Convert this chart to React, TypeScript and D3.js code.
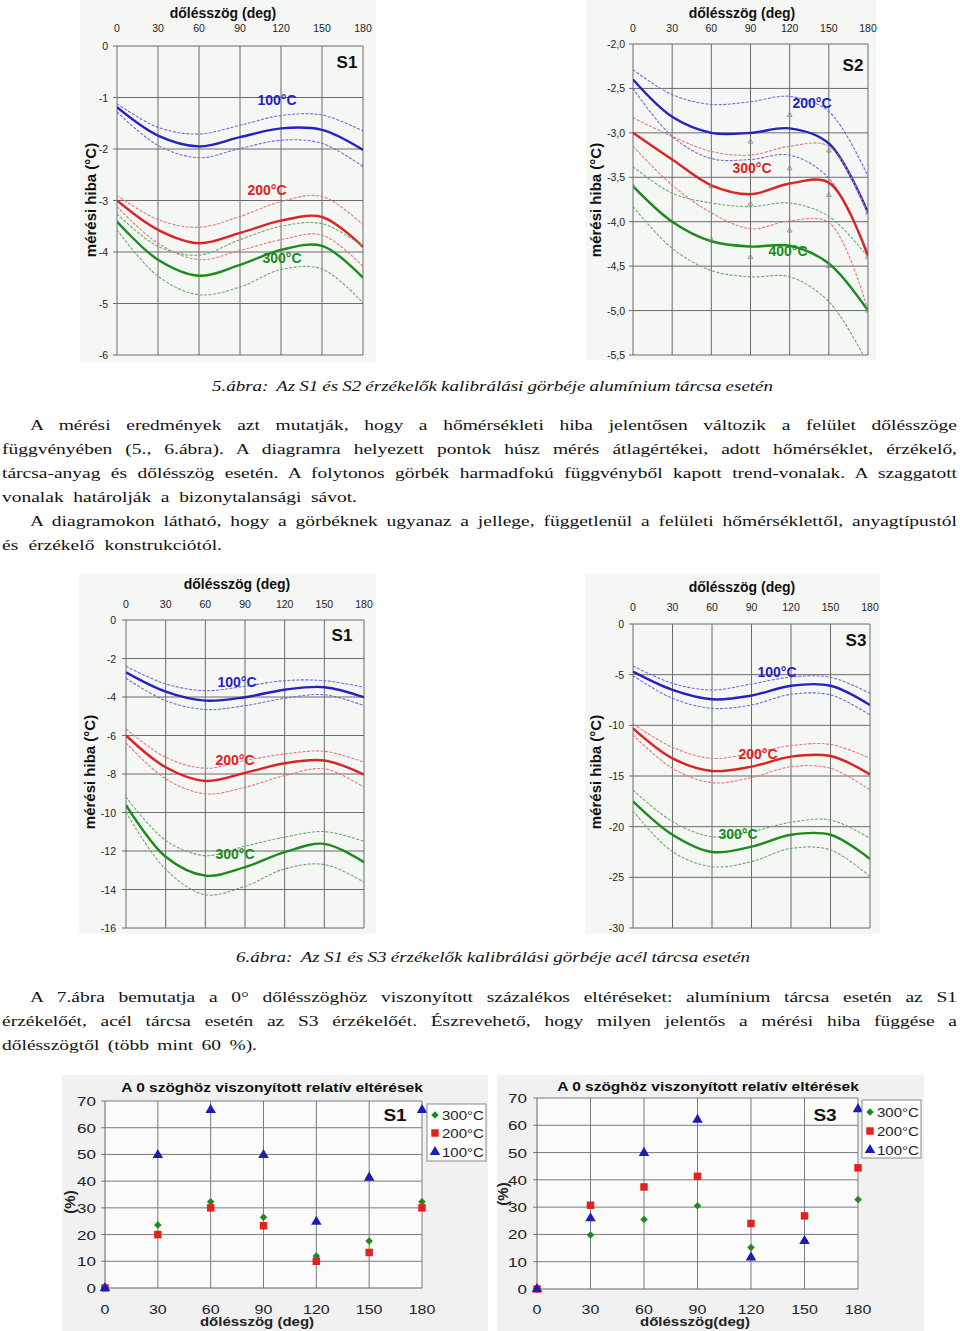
import React, { useLayoutEffect, useRef, useState } from "react";
import * as d3 from "d3";

// ---------- shared ----------
const ANGLES = [0, 30, 60, 90, 120, 150, 180];

// ---------- Fig 5, S1, aluminium ----------
const A1_100 = [-1.19, -1.74, -1.95, -1.77, -1.6, -1.63, -2.02];
const A1_100_HI = [-1.12, -1.58, -1.71, -1.54, -1.35, -1.34, -1.65];
const A1_100_LO = [-1.28, -1.93, -2.17, -1.99, -1.83, -1.89, -2.34];
const A1_200 = [-3.0, -3.57, -3.83, -3.63, -3.39, -3.32, -3.9];
const A1_200_HI = [-2.9, -3.37, -3.52, -3.31, -3.02, -2.92, -3.47];
const A1_200_LO = [-3.12, -3.83, -4.15, -3.97, -3.76, -3.67, -4.28];
const A1_300 = [-3.41, -4.15, -4.46, -4.25, -3.96, -3.88, -4.5];
const A1_300_HI = [-3.26, -3.89, -4.06, -3.76, -3.5, -3.45, -3.89];
const A1_300_LO = [-3.57, -4.47, -4.83, -4.68, -4.34, -4.33, -4.99];
const A1_YTICKS = [0, -1, -2, -3, -4, -5, -6];
const A1_YLABELS = ["0", "-1", "-2", "-3", "-4", "-5", "-6"];

// ---------- Fig 5, S2, aluminium ----------
const A2_200 = [-2.4, -2.82, -3.0, -3.0, -2.95, -3.12, -3.9];
const A2_200_HI = [-2.29, -2.57, -2.68, -2.65, -2.59, -2.76, -3.49];
const A2_200_LO = [-2.5, -3.04, -3.29, -3.3, -3.25, -3.51, -4.35];
const A2_300 = [-3.0, -3.3, -3.59, -3.69, -3.57, -3.56, -4.39];
const A2_300_HI = [-2.83, -3.04, -3.21, -3.25, -3.15, -3.15, -3.92];
const A2_300_LO = [-3.15, -3.59, -3.9, -4.08, -3.99, -4.01, -5.0];
const A2_400 = [-3.6, -4.0, -4.22, -4.28, -4.27, -4.47, -5.0];
const A2_400_HI = [-3.38, -3.68, -3.79, -3.83, -3.79, -3.94, -4.4];
const A2_400_LO = [-3.83, -4.3, -4.55, -4.62, -4.62, -4.9, -5.6];
const A2_PTS_200 = [null, null, null, -3.1, -2.8, -3.2, -3.9];
const A2_PTS_300 = [null, null, -3.6, -3.8, -3.4, -3.7, -4.4];
const A2_PTS_400 = [-3.6, null, -4.2, -4.4, -4.1, -4.5, -5.0];
const A2_YTICKS = [-2, -2.5, -3, -3.5, -4, -4.5, -5, -5.5];
const A2_YLABELS = ["-2,0", "-2,5", "-3,0", "-3,5", "-4,0", "-4,5", "-5,0", "-5,5"];

// ---------- Fig 6, S1, steel ----------
const B1_100 = [-2.72, -3.72, -4.19, -4.01, -3.62, -3.49, -4.01];
const B1_100_HI = [-2.4, -3.32, -3.67, -3.44, -3.15, -3.15, -3.49];
const B1_100_LO = [-3.03, -4.19, -4.65, -4.45, -4.07, -3.88, -4.45];
const B1_200 = [-6.0, -7.65, -8.36, -7.94, -7.44, -7.3, -8.03];
const B1_200_HI = [-5.66, -7.13, -7.7, -7.3, -6.96, -6.82, -7.39];
const B1_200_LO = [-6.38, -8.25, -9.03, -8.69, -8.08, -7.73, -8.69];
const B1_300 = [-9.62, -12.3, -13.28, -12.84, -12.06, -11.63, -12.58];
const B1_300_HI = [-9.19, -11.45, -12.24, -11.75, -11.28, -10.99, -11.5];
const B1_300_LO = [-10.0, -12.95, -14.27, -13.83, -12.93, -12.7, -13.62];
const B1_YTICKS = [0, -2, -4, -6, -8, -10, -12, -14, -16];
const B1_YLABELS = ["0", "-2", "-4", "-6", "-8", "-10", "-12", "-14", "-16"];

// ---------- Fig 6, S3, steel ----------
const B3_100 = [-4.7, -6.5, -7.43, -7.07, -6.09, -6.09, -8.0];
const B3_100_HI = [-4.14, -5.86, -6.51, -5.92, -5.23, -5.26, -6.84];
const B3_100_LO = [-5.1, -7.34, -8.32, -7.99, -6.94, -7.0, -8.98];
const B3_200 = [-10.3, -13.26, -14.5, -14.08, -13.09, -13.03, -14.84];
const B3_200_HI = [-9.87, -12.17, -13.26, -12.76, -12.0, -11.88, -13.26];
const B3_200_LO = [-10.95, -14.24, -15.66, -15.16, -14.08, -14.24, -16.38];
const B3_300 = [-17.5, -20.8, -22.5, -21.97, -20.8, -20.8, -23.19];
const B3_300_HI = [-16.38, -19.5, -20.99, -20.49, -19.57, -19.34, -21.15];
const B3_300_LO = [-18.45, -22.47, -23.95, -23.45, -22.14, -22.3, -24.93];
const B3_YTICKS = [0, -5, -10, -15, -20, -25, -30];
const B3_YLABELS = ["0", "-5", "-10", "-15", "-20", "-25", "-30"];

// ---------- Fig 7, relative deviations (%) ----------
const R_S1_300 = [0, 23.6, 32.3, 26.5, 12, 17.6, 32.3];
const R_S1_200 = [0, 20, 30, 23.3, 10, 13.3, 30];
const R_S1_100 = [0, 49.8, 66.6, 49.8, 24.8, 41.3, 66.6];
const R_S3_300 = [0, 19.8, 25.5, 30.5, 15.2, 17.6, 32.8];
const R_S3_200 = [0, 30.7, 37.4, 41.3, 24.0, 26.8, 44.4];
const R_S3_100 = [0, 25.9, 49.9, 62.0, 11.6, 17.6, 65.9];
const PCT_TICKS = [0, 10, 20, 30, 40, 50, 60, 70];
const LEGEND_LABELS = ["300°C", "200°C", "100°C"];

// ---------- text ----------
const CAPTION_5 = "5.ábra:  Az S1 és S2 érzékelők kalibrálási görbéje alumínium tárcsa esetén";
const CAPTION_6 = "6.ábra:  Az S1 és S3 érzékelők kalibrálási görbéje acél tárcsa esetén";
const PARA_1 = [
  "A mérési eredmények azt mutatják, hogy a hőmérsékleti hiba jelentősen változik a felület dőlésszöge",
  "függvényében (5., 6.ábra). A diagramra helyezett pontok húsz mérés átlagértékei, adott hőmérséklet, érzékelő,",
  "tárcsa-anyag és dőlésszög esetén. A folytonos görbék harmadfokú függvényből kapott trend-vonalak. A szaggatott",
  "vonalak határolják a bizonytalansági sávot.",
];
const PARA_2 = [
  "A diagramokon látható, hogy a görbéknek ugyanaz a jellege, függetlenül a felületi hőmérséklettől, anyagtípustól",
  "és érzékelő konstrukciótól.",
];
const PARA_3 = [
  "A 7.ábra bemutatja a 0° dőlésszöghöz viszonyított százalékos eltéréseket: alumínium tárcsa esetén az S1",
  "érzékelőét, acél tárcsa esetén az S3 érzékelőét. Észrevehető, hogy milyen jelentős a mérési hiba függése a",
  "dőlésszögtől (több mint 60 %).",
];

const BLUE = "#2323bf";
const BLUE_L = "#6b6bdc";
const RED = "#dc2222";
const RED_L = "#e57878";
const GREEN = "#1c8a1c";
const GREEN_L = "#6aaa6a";
const SANS = "'Liberation Sans', Arial, sans-serif";
const SERIF = "'Liberation Serif', 'Times New Roman', serif";

function TextLine({ x, y, width, text, italic = false, size = 19.5, sy = 0.76 }: any) {
  const ref = useRef<SVGTextElement>(null);
  const [ws, setWs] = useState(0);
  useLayoutEffect(() => {
    const el = ref.current;
    if (!el || !width) return;
    const nat = el.getComputedTextLength();
    const spaces = (text.match(/ /g) || []).length;
    if (spaces > 0) setWs((width - nat) / spaces);
  }, [text, width]);
  return (
    <text
      ref={ref}
      transform={`translate(${x},${y}) scale(1,${sy})`}
      fontFamily={SERIF}
      fontSize={size}
      fontStyle={italic ? "italic" : "normal"}
      style={{ wordSpacing: `${ws}px`, whiteSpace: "pre" }}
      fill="#111"
    >
      {text}
    </text>
  );
}

type Series = { main: number[]; hi: number[]; lo: number[]; color: string; light: string; label: string; lx: number; ly: number };

function LineChart(props: any) {
  const { id, panel, plot, yDomain, yTicks, yLabels, series, sensor, title, tickLabelY, yTickRight, yTitle, points } = props;
  const x = d3.scaleLinear().domain([0, 180]).range([plot.x0, plot.x1]);
  const y = d3.scaleLinear().domain(yDomain).range([plot.y0, plot.y1]);
  const line = d3
    .line<number>()
    .x((_, i) => x(ANGLES[i]))
    .y((d) => y(d))
    .curve(d3.curveCatmullRom.alpha(0.5));
  return (
    <g>
      <defs>
        <clipPath id={id}>
          <rect x={plot.x0} y={plot.y0} width={plot.x1 - plot.x0} height={plot.y1 - plot.y0} />
        </clipPath>
      </defs>
      <rect x={panel.x} y={panel.y} width={panel.w} height={panel.h} fill="#f5f7f5" />
      {ANGLES.map((a) => (
        <line key={"v" + a} x1={x(a)} x2={x(a)} y1={plot.y0} y2={plot.y1} stroke="#6a6a6a" strokeWidth={1} />
      ))}
      {yTicks.map((t: number) => (
        <line key={"h" + t} x1={plot.x0 - 4} x2={plot.x1} y1={y(t)} y2={y(t)} stroke="#6a6a6a" strokeWidth={1} />
      ))}
      {ANGLES.map((a) => (
        <text key={"xl" + a} x={x(a)} y={tickLabelY} textAnchor="middle" fontFamily={SANS} fontSize={10.5} fill="#222">
          {a}
        </text>
      ))}
      {yTicks.map((t: number, i: number) => (
        <text key={"yl" + t} x={yTickRight} y={y(t) + 4} textAnchor="end" fontFamily={SANS} fontSize={10.5} fill="#222">
          {yLabels[i]}
        </text>
      ))}
      <text x={title.x} y={title.y} textAnchor="middle" fontFamily={SANS} fontWeight="bold" fontSize={14} fill="#111">
        dőlésszög (deg)
      </text>
      <text
        transform={`translate(${yTitle.x},${yTitle.y}) rotate(-90)`}
        textAnchor="middle"
        fontFamily={SANS}
        fontWeight="bold"
        fontSize={15}
        fill="#111"
      >
        mérési hiba (°C)
      </text>
      <g clipPath={`url(#${id})`}>
        {series.map((s: Series, i: number) => (
          <g key={"s" + i}>
            <path d={line(s.hi) || ""} fill="none" stroke={s.light} strokeWidth={1.1} strokeDasharray="3,1.5" />
            <path d={line(s.lo) || ""} fill="none" stroke={s.light} strokeWidth={1.1} strokeDasharray="3,1.5" />
            <path d={line(s.main) || ""} fill="none" stroke={s.color} strokeWidth={2.4} />
          </g>
        ))}
        {points &&
          points.map((arr: (number | null)[], k: number) =>
            arr.map((v, i) =>
              v === null ? null : (
                <path
                  key={"p" + k + "-" + i}
                  transform={`translate(${x(ANGLES[i])},${y(v)})`}
                  d={d3.symbol(d3.symbolTriangle, 10)() || ""}
                  fill="none"
                  stroke="#888"
                  strokeWidth={0.8}
                />
              )
            )
          )}
      </g>
      {series.map((s: Series, i: number) => (
        <text key={"lab" + i} x={s.lx} y={s.ly} textAnchor="middle" fontFamily={SANS} fontWeight="bold" fontSize={14} fill={s.color}>
          {s.label}
        </text>
      ))}
      <text x={sensor.x} y={sensor.y} textAnchor="middle" fontFamily={SANS} fontWeight="bold" fontSize={17} fill="#111">
        {sensor.text}
      </text>
    </g>
  );
}

function ScatterChart(props: any) {
  const { panel, plot, title, sensor, legend, s300, s200, s100, xTitle, yTitle, yTickRight, xTickY } = props;
  const x = d3.scaleLinear().domain([0, 180]).range([plot.x0, plot.x1]);
  const y = d3.scaleLinear().domain([0, 70]).range([plot.y1, plot.y0]);
  const diamond = d3.symbol(d3.symbolDiamond2, 36)() || "";
  const square = d3.symbol(d3.symbolSquare, 56)() || "";
  const tri = d3.symbol(d3.symbolTriangle, 48)() || "";
  const sy = 0.8;
  return (
    <g>
      <rect x={panel.x} y={panel.y} width={panel.w} height={panel.h} fill="#f0f1f0" />
      <rect x={plot.x0} y={plot.y0} width={plot.x1 - plot.x0} height={plot.y1 - plot.y0} fill="#fbfbfb" />
      {ANGLES.slice(1).map((a) => (
        <line key={"v" + a} x1={x(a)} x2={x(a)} y1={plot.y0} y2={plot.y1} stroke="#7a7a7a" strokeWidth={1} />
      ))}
      {PCT_TICKS.slice(1).map((t) => (
        <line key={"h" + t} x1={plot.x0 - 4} x2={plot.x1} y1={y(t)} y2={y(t)} stroke="#7a7a7a" strokeWidth={1} />
      ))}
      <line x1={plot.x0} x2={plot.x0} y1={plot.y0} y2={plot.y1} stroke="#666" strokeWidth={1} />
      <line x1={plot.x0 - 4} x2={plot.x1} y1={plot.y1} y2={plot.y1} stroke="#666" strokeWidth={1} />
      {PCT_TICKS.map((t) => (
        <text key={"yl" + t} transform={`translate(${yTickRight},${y(t) + 5}) scale(1,${sy})`} textAnchor="end" fontFamily={SANS} fontSize={17} fill="#222">
          {t}
        </text>
      ))}
      {ANGLES.map((a) => (
        <text key={"xl" + a} transform={`translate(${x(a)},${xTickY}) scale(1,${sy})`} textAnchor="middle" fontFamily={SANS} fontSize={16} fill="#222">
          {a}
        </text>
      ))}
      <text transform={`translate(${title.x},${title.y}) scale(1,0.85)`} textAnchor="middle" fontFamily={SANS} fontWeight="bold" fontSize={15.5} fill="#111">
        A 0 szöghöz viszonyított relatív eltérések
      </text>
      <text transform={`translate(${xTitle.x},${xTitle.y}) scale(1,0.82)`} textAnchor="middle" fontFamily={SANS} fontWeight="bold" fontSize={15} fill="#222">
        {xTitle.text}
      </text>
      <text transform={`translate(${yTitle.x},${yTitle.y}) rotate(-90)`} textAnchor="middle" fontFamily={SANS} fontWeight="bold" fontSize={15} fill="#222">
        (%)
      </text>
      <text transform={`translate(${sensor.x},${sensor.y}) scale(1,0.85)`} textAnchor="middle" fontFamily={SANS} fontWeight="bold" fontSize={19} fill="#111">
        {sensor.text}
      </text>
      {s300.map((v: number, i: number) => (
        <path key={"g" + i} transform={`translate(${x(ANGLES[i])},${y(v)})`} d={diamond} fill={GREEN} />
      ))}
      {s200.map((v: number, i: number) => (
        <path key={"r" + i} transform={`translate(${x(ANGLES[i])},${y(v)})`} d={square} fill="#e42121" />
      ))}
      {s100.map((v: number, i: number) => (
        <path key={"b" + i} transform={`translate(${x(ANGLES[i])},${y(v)})`} d={tri} fill="#1d1db5" />
      ))}
      <rect x={legend.x} y={legend.y} width={legend.w} height={legend.h} fill="#fff" stroke="#8a8a8a" strokeWidth={1} />
      {LEGEND_LABELS.map((lab, i) => {
        const ry = legend.rows[i];
        const d = i === 0 ? diamond : i === 1 ? square : tri;
        const c = i === 0 ? GREEN : i === 1 ? "#e42121" : "#1d1db5";
        return (
          <g key={"lg" + i}>
            <path transform={`translate(${legend.x + 8},${ry})`} d={d} fill={c} />
            <text transform={`translate(${legend.x + 15},${ry + 5}) scale(1,0.8)`} fontFamily={SANS} fontSize={15} fill="#222">
              {lab}
            </text>
          </g>
        );
      })}
    </g>
  );
}

export default function App() {
  const a1Series: Series[] = [
    { main: A1_100, hi: A1_100_HI, lo: A1_100_LO, color: BLUE, light: BLUE_L, label: "100°C", lx: 277, ly: 105 },
    { main: A1_200, hi: A1_200_HI, lo: A1_200_LO, color: RED, light: RED_L, label: "200°C", lx: 267, ly: 195 },
    { main: A1_300, hi: A1_300_HI, lo: A1_300_LO, color: GREEN, light: GREEN_L, label: "300°C", lx: 282, ly: 263 },
  ];
  const a2Series: Series[] = [
    { main: A2_200, hi: A2_200_HI, lo: A2_200_LO, color: BLUE, light: BLUE_L, label: "200°C", lx: 812, ly: 108 },
    { main: A2_300, hi: A2_300_HI, lo: A2_300_LO, color: RED, light: RED_L, label: "300°C", lx: 752, ly: 173 },
    { main: A2_400, hi: A2_400_HI, lo: A2_400_LO, color: GREEN, light: GREEN_L, label: "400°C", lx: 788, ly: 256 },
  ];
  const b1Series: Series[] = [
    { main: B1_100, hi: B1_100_HI, lo: B1_100_LO, color: BLUE, light: BLUE_L, label: "100°C", lx: 237, ly: 687 },
    { main: B1_200, hi: B1_200_HI, lo: B1_200_LO, color: RED, light: RED_L, label: "200°C", lx: 235, ly: 765 },
    { main: B1_300, hi: B1_300_HI, lo: B1_300_LO, color: GREEN, light: GREEN_L, label: "300°C", lx: 235, ly: 859 },
  ];
  const b3Series: Series[] = [
    { main: B3_100, hi: B3_100_HI, lo: B3_100_LO, color: BLUE, light: BLUE_L, label: "100°C", lx: 777, ly: 677 },
    { main: B3_200, hi: B3_200_HI, lo: B3_200_LO, color: RED, light: RED_L, label: "200°C", lx: 758, ly: 759 },
    { main: B3_300, hi: B3_300_HI, lo: B3_300_LO, color: GREEN, light: GREEN_L, label: "300°C", lx: 738, ly: 839 },
  ];

  return (
    <svg width={960} height={1331} style={{ position: "absolute", left: 0, top: 0, background: "#fff" }}>
      <rect width={960} height={1331} fill="#fff" />
      <LineChart
        id="clipA1"
        panel={{ x: 80, y: 0, w: 296, h: 362 }}
        plot={{ x0: 117, x1: 363, y0: 46, y1: 355 }}
        yDomain={[0, -6]}
        yTicks={A1_YTICKS}
        yLabels={A1_YLABELS}
        series={a1Series}
        sensor={{ x: 347, y: 68, text: "S1" }}
        title={{ x: 223, y: 18 }}
        tickLabelY={32}
        yTickRight={108}
        yTitle={{ x: 96, y: 200 }}
      />
      <LineChart
        id="clipA2"
        panel={{ x: 586, y: 0, w: 290, h: 360 }}
        plot={{ x0: 633, x1: 868, y0: 44, y1: 355 }}
        yDomain={[-2, -5.5]}
        yTicks={A2_YTICKS}
        yLabels={A2_YLABELS}
        series={a2Series}
        points={[A2_PTS_200, A2_PTS_300, A2_PTS_400]}
        sensor={{ x: 853, y: 71, text: "S2" }}
        title={{ x: 742, y: 18 }}
        tickLabelY={32}
        yTickRight={625}
        yTitle={{ x: 601, y: 200 }}
      />
      <LineChart
        id="clipB1"
        panel={{ x: 79, y: 573, w: 297, h: 361 }}
        plot={{ x0: 126, x1: 364, y0: 620, y1: 928 }}
        yDomain={[0, -16]}
        yTicks={B1_YTICKS}
        yLabels={B1_YLABELS}
        series={b1Series}
        sensor={{ x: 342, y: 641, text: "S1" }}
        title={{ x: 237, y: 589 }}
        tickLabelY={608}
        yTickRight={116}
        yTitle={{ x: 95, y: 772 }}
      />
      <LineChart
        id="clipB3"
        panel={{ x: 585, y: 574, w: 295, h: 360 }}
        plot={{ x0: 633, x1: 870, y0: 624, y1: 928 }}
        yDomain={[0, -30]}
        yTicks={B3_YTICKS}
        yLabels={B3_YLABELS}
        series={b3Series}
        sensor={{ x: 856, y: 646, text: "S3" }}
        title={{ x: 742, y: 592 }}
        tickLabelY={611}
        yTickRight={624}
        yTitle={{ x: 601, y: 772 }}
      />
      <ScatterChart
        panel={{ x: 62, y: 1075, w: 426, h: 256 }}
        plot={{ x0: 105, x1: 422, y0: 1101, y1: 1288 }}
        title={{ x: 272, y: 1092 }}
        sensor={{ x: 395, y: 1121, text: "S1" }}
        legend={{ x: 427, y: 1104, w: 59, h: 57, rows: [1115, 1133, 1152] }}
        s300={R_S1_300}
        s200={R_S1_200}
        s100={R_S1_100}
        xTitle={{ x: 257, y: 1326, text: "dőlésszög (deg)" }}
        yTitle={{ x: 75, y: 1202 }}
        yTickRight={96}
        xTickY={1314}
      />
      <ScatterChart
        panel={{ x: 497, y: 1075, w: 427, h: 256 }}
        plot={{ x0: 537, x1: 858, y0: 1098, y1: 1289 }}
        title={{ x: 708, y: 1091 }}
        sensor={{ x: 825, y: 1121, text: "S3" }}
        legend={{ x: 862, y: 1100, w: 59, h: 58, rows: [1112, 1131, 1150] }}
        s300={R_S3_300}
        s200={R_S3_200}
        s100={R_S3_100}
        xTitle={{ x: 695, y: 1326, text: "dőlésszög(deg)" }}
        yTitle={{ x: 508, y: 1194 }}
        yTickRight={527}
        xTickY={1314}
      />
      <TextLine x={212} y={391} width={561} text={CAPTION_5} italic size={19} sy={0.8} />
      <TextLine x={30} y={430} width={927} text={PARA_1[0]} />
      <TextLine x={2} y={454} width={955} text={PARA_1[1]} />
      <TextLine x={2} y={478} width={955} text={PARA_1[2]} />
      <TextLine x={2} y={502} width={355} text={PARA_1[3]} />
      <TextLine x={30} y={526} width={927} text={PARA_2[0]} />
      <TextLine x={2} y={550} width={220} text={PARA_2[1]} />
      <TextLine x={236} y={962} width={514} text={CAPTION_6} italic size={19} sy={0.8} />
      <TextLine x={30} y={1002} width={927} text={PARA_3[0]} />
      <TextLine x={2} y={1026} width={955} text={PARA_3[1]} />
      <TextLine x={2} y={1050} width={255} text={PARA_3[2]} />
    </svg>
  );
}
